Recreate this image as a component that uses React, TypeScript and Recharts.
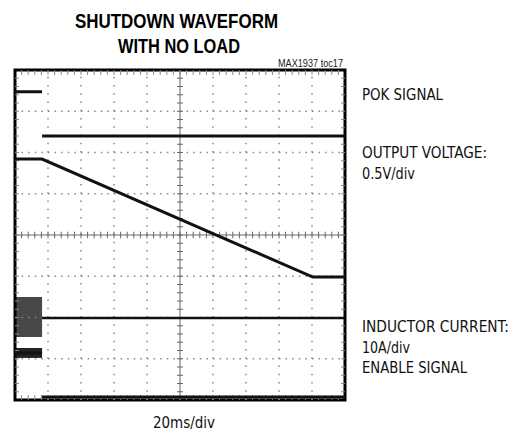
import React from "react";
import { ComposedChart, Line, Area, XAxis, YAxis, ReferenceLine, ReferenceArea } from "recharts";

// Scope settings: time in ms (20 ms/div, 10 div), vertical in divisions (8 div)
const X_DIVS = [0, 20, 40, 60, 80, 100, 120, 140, 160, 180, 200];
const Y_DIVS = [0, 1, 2, 3, 4, 5, 6, 7, 8];

// POK signal (divisions)
const pokT = [0, 16.4, 16.4, 16.4, 200];
const pokV = [7.47, 7.47, null, 6.4, 6.4];

// Output voltage
const voutT = [0, 16.4, 180.5, 200];
const voutV = [5.84, 5.84, 2.98, 2.98];

// Inductor current
const ilT = [16.4, 200];
const ilV = [1.99, 1.99];
const ilNoiseT = [0, 16.4];
const ilNoiseLo = [1.53, 1.53];
const ilNoiseHi = [2.5, 2.5];

// Enable signal
const enT = [0, 16.4, 16.4, 16.4, 200];
const enV = [1.14, 1.14, null, 0.07, 0.07];
const enBandLo = [1.02, 1.02];
const enBandHi = [1.26, 1.26];

const title1 = "SHUTDOWN WAVEFORM";
const title2 = "WITH NO LOAD";
const noteText = "MAX1937 toc17";
const xLabel = "20ms/div";
const sideLabels = [
  { text: "POK SIGNAL", y: 100, w: 81 },
  { text: "OUTPUT VOLTAGE:", y: 158, w: 125 },
  { text: "0.5V/div", y: 179, w: 53 },
  { text: "INDUCTOR CURRENT:", y: 331.5, w: 147 },
  { text: "10A/div", y: 352.5, w: 48 },
  { text: "ENABLE SIGNAL", y: 373, w: 105 },
];

const zip = (t: number[], v: (number | null)[]) => t.map((x, i) => ({ t: x, v: v[i] }));
const pokData = zip(pokT, pokV);
const voutData = zip(voutT, voutV);
const ilData = zip(ilT, ilV);
const ilNoiseData = ilNoiseT.map((x, i) => ({ t: x, r: [ilNoiseLo[i], ilNoiseHi[i]] }));
const enData = zip(enT, enV);
const enBandData = ilNoiseT.map((x, i) => ({ t: x, r: [enBandLo[i], enBandHi[i]] }));

const FONT = "'Liberation Sans', Arial, sans-serif";
const NARROW = "'DejaVu Sans Condensed', 'Liberation Sans', sans-serif";

export default function App() {
  const xMinor: number[] = [];
  for (let i = 1; i < 50; i++) xMinor.push(i * 4);
  const yMinor: number[] = [];
  for (let i = 1; i < 40; i++) yMinor.push(i * 0.2);

  return (
    <div style={{ position: "absolute", left: 0, top: 0, width: 517, height: 432, background: "#fff" }}>
      <ComposedChart width={517} height={432} margin={{ top: 70, right: 172, bottom: 32, left: 15 }}>
        <XAxis type="number" dataKey="t" domain={[0, 200]} ticks={X_DIVS} hide allowDuplicatedCategory={false} />
        <YAxis type="number" domain={[0, 8]} ticks={Y_DIVS} hide />
        {X_DIVS.slice(1, -1).filter((x) => x !== 100).map((x) => (
          <ReferenceLine key={"gx" + x} x={x} stroke="#888" strokeWidth={1.5} strokeDasharray="1.5 6.75" />
        ))}
        {Y_DIVS.slice(1, -1).filter((y) => y !== 4).map((y) => (
          <ReferenceLine key={"gy" + y} y={y} stroke="#888" strokeWidth={1.5} strokeDasharray="1.5 5.1" />
        ))}
        <ReferenceLine x={100} stroke="#666" strokeWidth={1} />
        <ReferenceLine y={4} stroke="#666" strokeWidth={1} />
        {xMinor.map((x) => (
          <ReferenceLine key={"cx" + x} segment={[{ x, y: 3.92 }, { x, y: 4.08 }]} stroke="#666" strokeWidth={1} />
        ))}
        {yMinor.map((y) => (
          <ReferenceLine key={"cy" + y} segment={[{ x: 98.2, y }, { x: 101.8, y }]} stroke="#666" strokeWidth={1} />
        ))}
        {xMinor.map((x) => (
          <ReferenceLine key={"tx" + x} segment={[{ x, y: 8 }, { x, y: 7.88 }]} stroke="#888" strokeWidth={1} />
        ))}
        {xMinor.map((x) => (
          <ReferenceLine key={"bx" + x} segment={[{ x, y: 0 }, { x, y: 0.12 }]} stroke="#888" strokeWidth={1} />
        ))}
        {yMinor.map((y) => (
          <ReferenceLine key={"ly" + y} segment={[{ x: 0, y }, { x: 2.4, y }]} stroke="#888" strokeWidth={1} />
        ))}
        {yMinor.map((y) => (
          <ReferenceLine key={"ry" + y} segment={[{ x: 200, y }, { x: 197.6, y }]} stroke="#888" strokeWidth={1} />
        ))}
        <Area data={ilNoiseData} dataKey="r" type="linear" stroke="none" fill="#484848" fillOpacity={1} isAnimationActive={false} />
        <Area data={enBandData} dataKey="r" type="linear" stroke="none" fill="#222" fillOpacity={1} isAnimationActive={false} />
        <Line data={pokData} dataKey="v" type="linear" stroke="#111" strokeWidth={3} dot={false} connectNulls={false} isAnimationActive={false} />
        <Line data={voutData} dataKey="v" type="linear" stroke="#111" strokeWidth={3} dot={false} isAnimationActive={false} />
        <Line data={ilData} dataKey="v" type="linear" stroke="#111" strokeWidth={2.5} dot={false} isAnimationActive={false} />
        <Line data={enData} dataKey="v" type="linear" stroke="#111" strokeWidth={3} dot={false} connectNulls={false} isAnimationActive={false} />
        <ReferenceArea x1={0} x2={200} y1={0} y2={8} fill="none" stroke="#000" strokeWidth={3} ifOverflow="visible" />
      </ComposedChart>
      <svg width={517} height={432} style={{ position: "absolute", left: 0, top: 0, pointerEvents: "none" }}>
        <text x={75} y={28} fontFamily={FONT} fontWeight="bold" fontSize={21} fill="#000" textLength={203} lengthAdjust="spacingAndGlyphs">{title1}</text>
        <text x={118} y={53} fontFamily={FONT} fontWeight="bold" fontSize={21} fill="#000" textLength={122} lengthAdjust="spacingAndGlyphs">{title2}</text>
        <text x={278} y={67} fontFamily={FONT} fontSize={10} fill="#222" textLength={65} lengthAdjust="spacingAndGlyphs">{noteText}</text>
        {sideLabels.map((l) => (
          <text key={l.text} x={362} y={l.y} fontFamily={NARROW} fontSize={15.5} fill="#111" textLength={l.w} lengthAdjust="spacingAndGlyphs">{l.text}</text>
        ))}
        <text x={153} y={428} fontFamily={NARROW} fontSize={15.5} fill="#111" textLength={62} lengthAdjust="spacingAndGlyphs">{xLabel}</text>
      </svg>
    </div>
  );
}
